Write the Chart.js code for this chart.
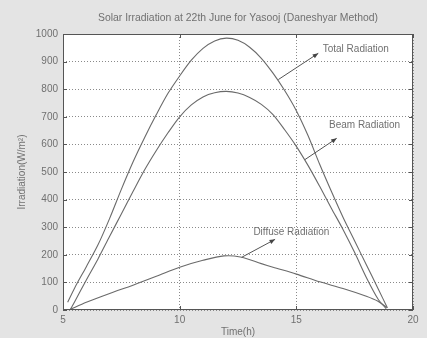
<!DOCTYPE html>
<html>
<head>
<meta charset="utf-8">
<script src="https://cdn.jsdelivr.net/npm/chart.js@4.4.0/dist/chart.umd.min.js"></script>
<style>
  html, body { margin: 0; padding: 0; background: #e4e4e4; }
  canvas { display: block; }
</style>
</head>
<body>
<canvas id="chart" width="427" height="338"></canvas>
<script>
// Solar irradiation over the day (hours), W/m²
const chartTitle = 'Solar Irradiation at 22th June for Yasooj (Daneshyar Method)';
const xAxisTitle = 'Time(h)';
const yAxisTitle = 'Irradiation(W/m²)';
const seriesNames = ['Total Radiation', 'Beam Radiation', 'Diffuse Radiation'];

const totalTime   = [5.2, 5.5, 6.0, 6.5, 7.0, 7.5, 8.0, 8.5, 9.0, 9.5, 10.0, 10.5, 11.0, 11.5, 12.0, 12.5, 13.0, 13.5, 14.0, 14.5, 15.0, 15.5, 16.0, 16.5, 17.0, 17.5, 18.0, 18.5, 18.9];
const totalValues = [28, 80, 157, 236, 332, 437, 536, 625, 708, 785, 848, 905, 948, 975, 985, 977, 952, 912, 858, 795, 722, 632, 528, 430, 336, 250, 164, 78, 8];

const beamTime    = [5.3, 5.5, 6.0, 6.5, 7.0, 7.5, 8.0, 8.5, 9.0, 9.5, 10.0, 10.5, 11.0, 11.5, 12.0, 12.5, 13.0, 13.5, 14.0, 14.5, 15.0, 15.5, 16.0, 16.5, 17.0, 17.5, 18.0, 18.5, 18.85];
const beamValues  = [0, 30, 109, 185, 267, 348, 429, 508, 578, 642, 700, 743, 772, 787, 792, 786, 770, 745, 708, 653, 593, 524, 448, 369, 292, 208, 118, 40, 5];

const diffuseTime   = [5.3, 6.0, 7.0, 8.0, 9.0, 10.0, 11.0, 11.9, 12.6, 13.5, 14.0, 15.0, 16.0, 17.0, 18.0, 18.5, 18.9];
const diffuseValues = [2, 28, 60, 90, 122, 155, 180, 196, 192, 168, 155, 130, 102, 78, 50, 32, 8];

const xTicks = [5, 10, 15, 20];
const yTicks = [0, 100, 200, 300, 400, 500, 600, 700, 800, 900, 1000];

// Callout labels: arrow from a point on the curve towards the text
const callouts = [
  { text: seriesNames[0], from: [14.23, 835], to: [15.94, 930], at: [16.13, 944] },
  { text: seriesNames[1], from: [15.37, 545], to: [16.73, 622], at: [16.40, 670] },
  { text: seriesNames[2], from: [12.66, 191], to: [14.09, 256], at: [13.16, 282] }
];

const pts = (xs, ys) => xs.map((x, i) => ({ x: x, y: ys[i] }));
const lineColor = '#6a6a6a';
const textColor = '#707070';
const fontFamily = '"Liberation Sans", Arial, sans-serif';

const frame = {
  id: 'frame',
  beforeDraw(chart) {
    const { ctx, chartArea: a } = chart;
    ctx.save();
    ctx.fillStyle = '#e4e4e4';
    ctx.fillRect(0, 0, chart.width, chart.height);
    ctx.fillStyle = '#ffffff';
    ctx.fillRect(a.left, a.top, a.right - a.left, a.bottom - a.top);
    ctx.restore();
  },
  afterDatasetsDraw(chart) {
    const { ctx, chartArea: a, scales: { x, y } } = chart;
    ctx.save();
    // box and inward ticks
    ctx.strokeStyle = '#555';
    ctx.lineWidth = 1;
    ctx.strokeRect(a.left + 0.5, a.top + 0.5, a.right - a.left - 1, a.bottom - a.top - 1);
    ctx.beginPath();
    yTicks.forEach(v => {
      const py = Math.round(y.getPixelForValue(v)) + 0.5;
      ctx.moveTo(a.left, py); ctx.lineTo(a.left + 4, py);
      ctx.moveTo(a.right, py); ctx.lineTo(a.right - 4, py);
    });
    xTicks.forEach(v => {
      const px = Math.round(x.getPixelForValue(v)) + 0.5;
      ctx.moveTo(px, a.bottom); ctx.lineTo(px, a.bottom - 4);
      ctx.moveTo(px, a.top); ctx.lineTo(px, a.top + 4);
    });
    ctx.stroke();

    // callouts
    ctx.font = '10px ' + fontFamily;
    ctx.textBaseline = 'middle';
    ctx.textAlign = 'left';
    callouts.forEach(c => {
      const x0 = x.getPixelForValue(c.from[0]), y0 = y.getPixelForValue(c.from[1]);
      const x1 = x.getPixelForValue(c.to[0]),   y1 = y.getPixelForValue(c.to[1]);
      ctx.strokeStyle = '#555';
      ctx.lineWidth = 1;
      ctx.beginPath(); ctx.moveTo(x0, y0); ctx.lineTo(x1, y1); ctx.stroke();
      const ang = Math.atan2(y1 - y0, x1 - x0);
      ctx.fillStyle = '#444';
      ctx.beginPath();
      ctx.moveTo(x1, y1);
      ctx.lineTo(x1 - 6 * Math.cos(ang - 0.4), y1 - 6 * Math.sin(ang - 0.4));
      ctx.lineTo(x1 - 6 * Math.cos(ang + 0.4), y1 - 6 * Math.sin(ang + 0.4));
      ctx.closePath(); ctx.fill();
      ctx.fillStyle = textColor;
      ctx.fillText(c.text, x.getPixelForValue(c.at[0]), y.getPixelForValue(c.at[1]));
    });

    // title and axis titles
    ctx.fillStyle = textColor;
    ctx.textAlign = 'center';
    ctx.font = '10.4px ' + fontFamily;
    const cx = (a.left + a.right) / 2;
    ctx.fillText(chartTitle, cx, 18);
    ctx.font = '10px ' + fontFamily;
    ctx.fillText(xAxisTitle, cx, 332);
    ctx.translate(22, (a.top + a.bottom) / 2);
    ctx.rotate(-Math.PI / 2);
    ctx.fillText(yAxisTitle, 0, 0);
    ctx.restore();
  }
};

new Chart(document.getElementById('chart'), {
  type: 'line',
  data: {
    datasets: [
      { label: seriesNames[0], data: pts(totalTime, totalValues) },
      { label: seriesNames[1], data: pts(beamTime, beamValues) },
      { label: seriesNames[2], data: pts(diffuseTime, diffuseValues) }
    ].map(d => Object.assign(d, {
      borderColor: lineColor, borderWidth: 1.1, pointRadius: 0,
      fill: false, tension: 0.3
    }))
  },
  options: {
    responsive: false,
    animation: false,
    layout: { padding: { top: 34, right: 14, bottom: 0, left: 0 } },
    plugins: { legend: { display: false }, title: { display: false }, tooltip: { enabled: false } },
    scales: {
      x: {
        type: 'linear', min: 5, max: 20,
        afterBuildTicks: s => { s.ticks = xTicks.map(v => ({ value: v })); },
        afterFit: s => { s.height = 28; },
        grid: { color: '#8a8a8a', lineWidth: 1, drawTicks: false },
        border: { display: false, dash: [1, 2] },
        ticks: { padding: 4, color: textColor, font: { size: 10, family: fontFamily }, maxRotation: 0,
                 callback: v => String(v) }
      },
      y: {
        type: 'linear', min: 0, max: 1000,
        afterBuildTicks: s => { s.ticks = yTicks.map(v => ({ value: v })); },
        afterFit: s => { s.width = 63; },
        grid: { color: '#8a8a8a', lineWidth: 1, drawTicks: false },
        border: { display: false, dash: [1, 2] },
        ticks: { padding: 5, color: textColor, font: { size: 10, family: fontFamily },
                 callback: v => String(v) }
      }
    }
  },
  plugins: [frame]
});
</script>
</body>
</html>
